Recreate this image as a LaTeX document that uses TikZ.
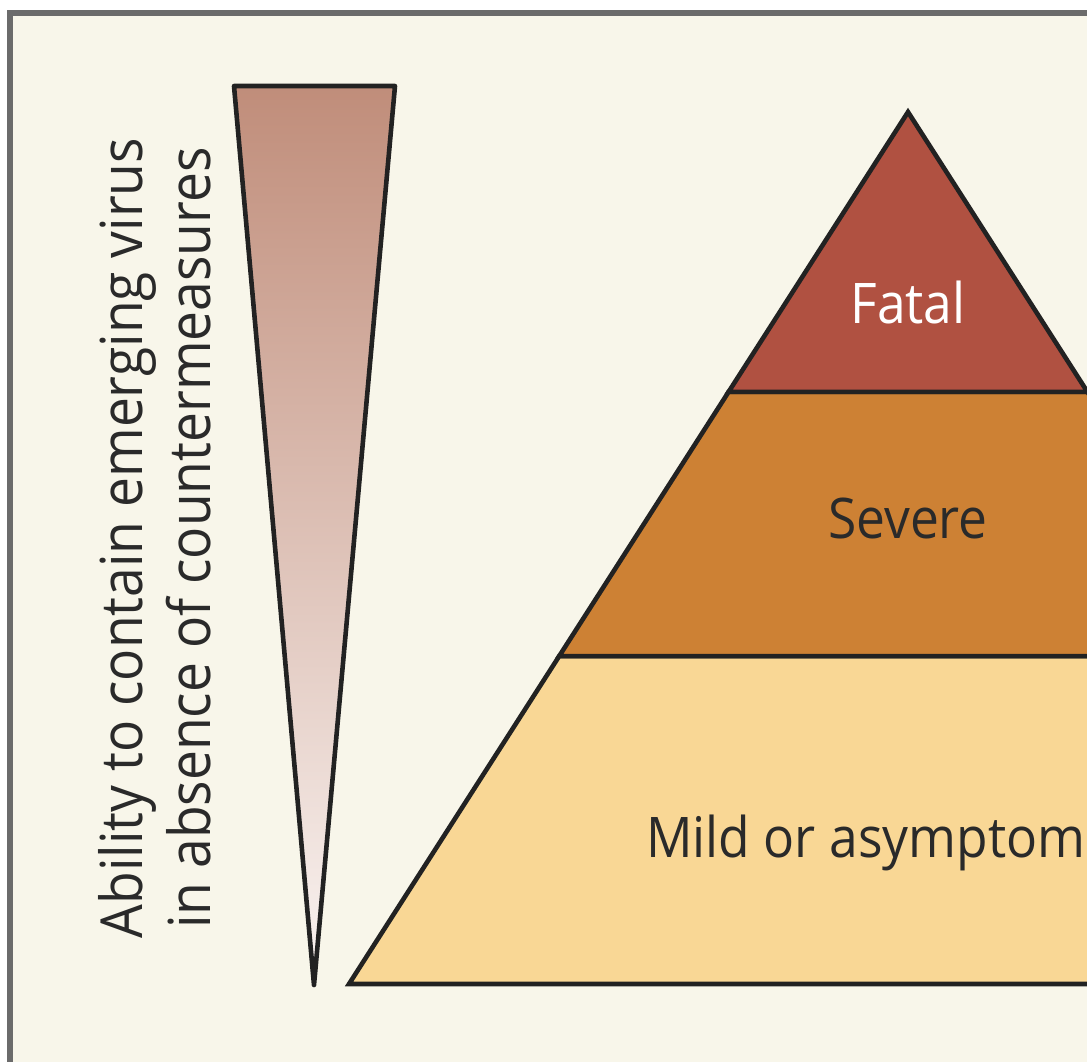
\documentclass[tikz,border=0pt]{standalone}
\usepackage{fontspec}
\setmainfont{Open Sans}
\newfontfamily\narrowfont{Open Sans}[FakeStretch=0.92]
\usetikzlibrary{calc}

\definecolor{paper}{HTML}{F8F6EA}
\definecolor{framegray}{HTML}{6B6B6B}
\definecolor{outline}{HTML}{222222}
\definecolor{fatalred}{HTML}{B05141}
\definecolor{severeorange}{HTML}{CD8134}
\definecolor{mildyellow}{HTML}{F9D795}
\definecolor{wedgetop}{HTML}{C08D7A}
\definecolor{wedgebot}{HTML}{FAF4F2}
\definecolor{textgray}{HTML}{2A2A2A}

\begin{document}
\begin{tikzpicture}[x=0.5pt, y=-0.5pt]
\tikzset{layer/.style={draw=outline, line width=2.3pt, line join=miter},
  lbl/.style={font=\narrowfont\fontsize{28}{32}\selectfont, text=textgray, inner sep=0pt, anchor=base},
  sidelbl/.style={font=\narrowfont\fontsize{29}{33}\selectfont, text=textgray, inner sep=0pt, anchor=base, rotate=90}}

% Normalize bounding box
\useasboundingbox (0,0) rectangle (1087,1061);
\clip (0,0) rectangle (1087,1061);
\fill[white] (0,0) rectangle (1087,1061);
\filldraw[fill=paper, draw=framegray, line width=3pt] (10,13) rectangle (1200,1200);

% wedge
\coordinate (wedgeTL) at (234,86);
\coordinate (wedgeTR) at (395,86);
\coordinate (wedgeTip) at (314,985);
\shadedraw[top color=wedgetop, bottom color=wedgebot, draw=outline, line width=2.3pt, line join=round]
  (wedgeTL) -- (wedgeTR) -- (wedgeTip) -- cycle;

\node[sidelbl] (ability) at (142,538) {Ability to contain emerging virus};
\node[sidelbl] (absence) at (210,538) {in absence of countermeasures};

% pyramid
\coordinate (apex) at (908,112);
\coordinate (baseL) at (349,984);
\coordinate (baseR) at (1467,984);
\coordinate (fsL) at ($(apex)!0.321!(baseL)$);
\coordinate (fsR) at ($(apex)!0.321!(baseR)$);
\coordinate (smL) at ($(apex)!0.624!(baseL)$);
\coordinate (smR) at ($(apex)!0.624!(baseR)$);

\filldraw[layer, fill=mildyellow] (smL) -- (smR) -- (baseR) -- (baseL) -- cycle;
\filldraw[layer, fill=severeorange] (fsL) -- (fsR) -- (smR) -- (smL) -- cycle;
\filldraw[layer, fill=fatalred] (apex) -- (fsR) -- (fsL) -- cycle;

\node[lbl, text=white] (fatal) at (908,323) {Fatal};
\node[lbl] (severe) at (908,538) {Severe};
\node[lbl] (mild) at (908,857) {Mild or asymptomatic};

\end{tikzpicture}
\end{document}
